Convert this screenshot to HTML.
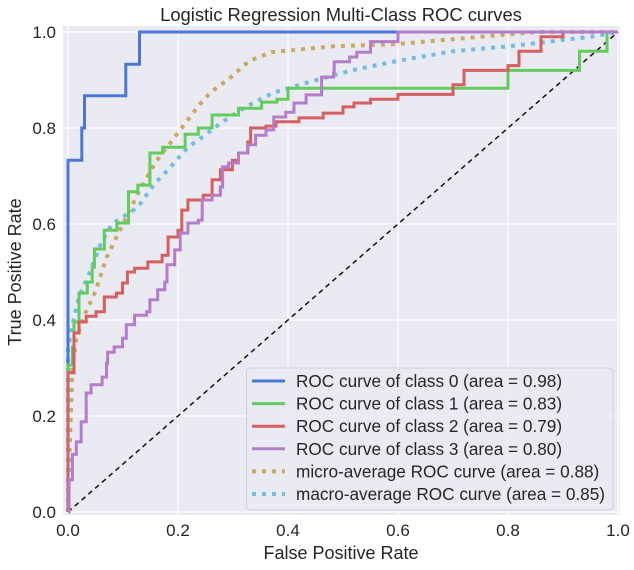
<!DOCTYPE html>
<html><head><meta charset="utf-8"><style>
body{margin:0;background:#fff;}
svg{display:block;font-family:"Liberation Sans","DejaVu Sans",sans-serif;}
</style></head><body>
<svg id="chart" width="634" height="570" viewBox="0 0 634 570" xmlns="http://www.w3.org/2000/svg">
<rect x="63" y="26" width="557" height="489" fill="#eaeaf2"/>
<g id="grid"></g>
<g id="ticks"></g>
<line x1="68" y1="512" x2="618" y2="32" stroke="#111" stroke-width="1.5" stroke-dasharray="5,4"/>
<g id="curves"></g>
<text x="341" y="21" text-anchor="middle" font-size="18.4" fill="#262626">Logistic Regression Multi-Class ROC curves</text>
<text x="341" y="559" text-anchor="middle" font-size="18" fill="#262626">False Positive Rate</text>
<text x="21" y="272" text-anchor="middle" font-size="18" fill="#262626" transform="rotate(-90 21 272)">True Positive Rate</text>
<g id="legend"></g>
</svg>
<script>
const ticks=[0,0.2,0.4,0.6,0.8,1.0];
const tickLabels=["0.0","0.2","0.4","0.6","0.8","1.0"];
const names=["ROC curve of class 0 (area = 0.98)","ROC curve of class 1 (area = 0.83)","ROC curve of class 2 (area = 0.79)","ROC curve of class 3 (area = 0.80)","micro-average ROC curve (area = 0.88)","macro-average ROC curve (area = 0.85)"];
const colors=["#4a78d6","#62cc5c","#d65f5f","#b57ccb","#c8aa62","#72bde0"];
const dotted=[false,false,false,false,true,true];
const fpr0=[0,0,0.025,0.025,0.03,0.03,0.105,0.105,0.13,0.13,1];
const tpr0=[0,0.733,0.733,0.8,0.8,0.867,0.867,0.933,0.933,1,1];
const fpr1=[0,0,0.008,0.011,0.02,0.035,0.044,0.048,0.066,0.089,0.11,0.127,0.149,0.172,0.213,0.237,0.262,0.31,0.352,0.38,0.4,0.77,0.8,0.92,0.93,0.98,1];
const tpr1=[0,0.306,0.344,0.396,0.456,0.479,0.51,0.548,0.587,0.602,0.667,0.681,0.748,0.76,0.787,0.8,0.827,0.841,0.854,0.86,0.883,0.883,0.92,0.92,0.96,1,1];
const fpr2=[0,0,0.011,0.02,0.033,0.051,0.066,0.088,0.099,0.108,0.121,0.145,0.171,0.182,0.2,0.207,0.218,0.246,0.262,0.277,0.299,0.31,0.327,0.332,0.36,0.378,0.42,0.464,0.5,0.52,0.55,0.6,0.7,0.72,0.8,0.82,0.86,0.9,1];
const tpr2=[0,0.29,0.373,0.396,0.408,0.417,0.448,0.456,0.477,0.5,0.508,0.521,0.535,0.573,0.587,0.629,0.65,0.66,0.692,0.713,0.733,0.748,0.771,0.8,0.804,0.813,0.821,0.831,0.844,0.852,0.86,0.87,0.89,0.92,0.93,0.96,0.99,1,1];
const fpr3=[0,0.002,0.008,0.015,0.024,0.033,0.042,0.062,0.07,0.072,0.084,0.099,0.106,0.121,0.143,0.149,0.163,0.176,0.18,0.194,0.204,0.218,0.237,0.244,0.262,0.277,0.281,0.292,0.31,0.327,0.341,0.36,0.374,0.396,0.411,0.433,0.461,0.483,0.484,0.512,0.525,0.55,0.6,1];
const tpr3=[0,0.067,0.12,0.146,0.188,0.248,0.265,0.281,0.31,0.333,0.344,0.362,0.39,0.41,0.417,0.442,0.463,0.479,0.515,0.546,0.581,0.602,0.608,0.65,0.66,0.677,0.719,0.727,0.748,0.765,0.785,0.796,0.823,0.833,0.852,0.869,0.906,0.915,0.938,0.948,0.958,0.98,1,1];
const fpr4=[0,0.002,0.005,0.008,0.015,0.03,0.05,0.07,0.1,0.13,0.16,0.2,0.24,0.26,0.29,0.33,0.37,0.48,0.6,0.75,0.85,1];
const tpr4=[0,0.1,0.2,0.3,0.36,0.41,0.46,0.53,0.6,0.67,0.73,0.79,0.85,0.875,0.9,0.94,0.958,0.97,0.975,0.99,1,1];
const fpr5=[0,0,0.01,0.02,0.04,0.05,0.06,0.08,0.1,0.127,0.158,0.182,0.218,0.244,0.281,0.323,0.372,0.439,0.52,0.6,0.7,0.8,0.95,1];
const tpr5=[0,0.34,0.4,0.45,0.5,0.53,0.56,0.6,0.615,0.635,0.685,0.713,0.76,0.781,0.813,0.844,0.873,0.896,0.921,0.94,0.96,0.97,0.99,1];
const fprs=[fpr0,fpr1,fpr2,fpr3,fpr4,fpr5];
const tprs=[tpr0,tpr1,tpr2,tpr3,tpr4,tpr5];

const NS="http://www.w3.org/2000/svg";
const xs=v=>68+550*v, ys=v=>512-480*v;
function mk(t,a,p){const e=document.createElementNS(NS,t);for(const k in a)e.setAttribute(k,a[k]);p.appendChild(e);return e;}
const grid=document.getElementById('grid'),tk=document.getElementById('ticks');
ticks.forEach((t,i)=>{
  let g=mk('line',{x1:xs(t),x2:xs(t),y1:26,y2:515,stroke:'#fff','stroke-width':1.2},grid);
  
  
  g=mk('line',{x1:63,x2:620,y1:ys(t),y2:ys(t),stroke:'#fff','stroke-width':1.2},grid);
  
  
  let l=mk('text',{x:xs(t),y:536,'text-anchor':'middle','font-size':17,fill:'#262626'},tk);
  l.textContent=tickLabels[i];
  
  
  l=mk('text',{x:56,y:ys(t)+6,'text-anchor':'end','font-size':17,fill:'#262626'},tk);
  l.textContent=tickLabels[i];
  
  
});
const cv=document.getElementById('curves');
const order=[4,5,0,1,2,3];
order.forEach(i=>{
  const f=fprs[i],t=tprs[i];
  const P=[];
  for(let j=0;j<f.length;j++){
    if(!dotted[i]&&j>0){P.push(xs(f[j]).toFixed(1)+','+ys(t[j-1]).toFixed(1));}
    P.push(xs(f[j]).toFixed(1)+','+ys(t[j]).toFixed(1));
  }
  const a={points:P.join(' '),fill:'none',stroke:colors[i],'stroke-width':dotted[i]?4:3,'stroke-linejoin':'miter'};
  if(dotted[i])a['stroke-dasharray']='4,6';
  const p=mk('polyline',a,cv);
  
  
});
const lg=document.getElementById('legend');
const box=mk('rect',{x:246.5,y:368,width:366.5,height:142,rx:4,fill:'#eaeaf2','fill-opacity':0.85,stroke:'#d0d0d8'},lg);


names.forEach((n,i)=>{
  const y=381+22.6*i;
  const a={x1:252,x2:285,y1:y,y2:y,stroke:colors[i],'stroke-width':dotted[i]?4:3};
  if(dotted[i])a['stroke-dasharray']='4,6';
  const ln=mk('line',a,lg);
  
  
  const t=mk('text',{x:296,y:y+6,'font-size':17.2,fill:'#262626'},lg);
  t.textContent=n;
  
  
});
</script>
</body></html>
